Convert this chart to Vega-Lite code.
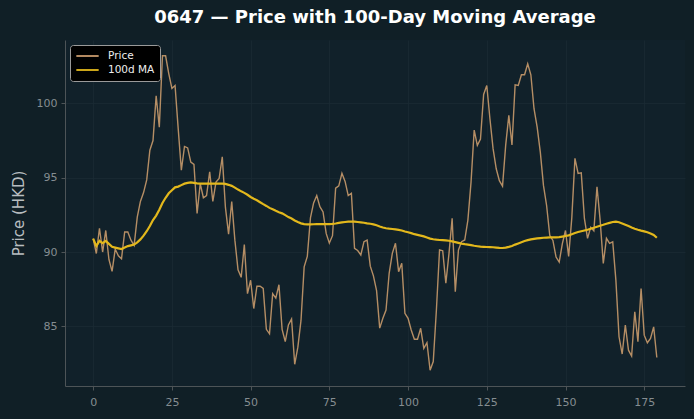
{
  "$schema": "https://vega.github.io/schema/vega-lite/v6.json",
  "width": 620,
  "height": 346,
  "autosize": {"type": "none"},
  "padding": {"left": 65, "top": 40, "right": 9, "bottom": 33},
  "background": "#101f26",
  "title": {
    "text": "0647 — Price with 100-Day Moving Average",
    "font": "DejaVu Sans",
    "fontSize": 18,
    "fontWeight": "bold",
    "color": "#ffffff",
    "anchor": "middle",
    "offset": 13
  },
  "config": {
    "view": {"stroke": null, "fill": "#11212a"},
    "font": "DejaVu Sans",
    "axis": {
      "labelFont": "DejaVu Sans",
      "labelFontSize": 11,
      "labelColor": "#858d91",
      "domainColor": "#4d5457",
      "tickColor": "#4d5457",
      "tickSize": 4,
      "gridColor": "#1b2b33",
      "gridWidth": 0.8,
      "titleFont": "DejaVu Sans",
      "titleFontWeight": "normal",
      "titleColor": "#b8bdc0",
      "titleFontSize": 15
    },
    "legend": {
      "orient": "top-left",
      "offset": 5,
      "fillColor": "#000000",
      "strokeColor": "#9a9a9a",
      "cornerRadius": 3,
      "padding": 5,
      "labelColor": "#eeeeee",
      "labelFont": "DejaVu Sans",
      "labelFontSize": 10.5,
      "symbolType": "stroke",
      "symbolStrokeWidth": 2,
      "symbolSize": 500,
      "clipHeight": 12,
      "rowPadding": 2,
      "labelOffset": 8,
      "title": null
    }
  },
  "data": {
    "values": [
      {"day":0,"price":90.9,"ma":90.9},{"day":1,"price":89.9,"ma":90.4},{"day":2,"price":91.6,"ma":90.75},{"day":3,"price":90.0,"ma":90.6},{"day":4,"price":91.45,"ma":90.75},
      {"day":5,"price":89.5,"ma":90.55},{"day":6,"price":88.7,"ma":90.35},{"day":7,"price":90.2,"ma":90.3},{"day":8,"price":89.75,"ma":90.25},{"day":9,"price":89.55,"ma":90.2},
      {"day":10,"price":91.35,"ma":90.3},{"day":11,"price":91.35,"ma":90.4},{"day":12,"price":90.8,"ma":90.45},{"day":13,"price":90.45,"ma":90.5},{"day":14,"price":92.35,"ma":90.65},
      {"day":15,"price":93.4,"ma":90.85},{"day":16,"price":94.0,"ma":91.1},{"day":17,"price":94.85,"ma":91.4},{"day":18,"price":96.85,"ma":91.75},{"day":19,"price":97.5,"ma":92.15},
      {"day":20,"price":100.5,"ma":92.45},{"day":21,"price":98.4,"ma":92.85},{"day":22,"price":103.2,"ma":93.3},{"day":23,"price":103.2,"ma":93.65},{"day":24,"price":102.0,"ma":93.95},
      {"day":25,"price":101.0,"ma":94.15},{"day":26,"price":101.2,"ma":94.35},{"day":27,"price":98.3,"ma":94.4},{"day":28,"price":95.5,"ma":94.5},{"day":29,"price":97.1,"ma":94.6},
      {"day":30,"price":97.0,"ma":94.65},{"day":31,"price":96.05,"ma":94.68},{"day":32,"price":95.9,"ma":94.65},{"day":33,"price":92.6,"ma":94.62},{"day":34,"price":94.6,"ma":94.6},
      {"day":35,"price":93.65,"ma":94.6},{"day":36,"price":93.8,"ma":94.6},{"day":37,"price":95.4,"ma":94.6},{"day":38,"price":93.4,"ma":94.6},{"day":39,"price":94.7,"ma":94.6},
      {"day":40,"price":94.95,"ma":94.6},{"day":41,"price":96.4,"ma":94.6},{"day":42,"price":93.0,"ma":94.58},{"day":43,"price":91.2,"ma":94.52},{"day":44,"price":93.4,"ma":94.45},
      {"day":45,"price":90.8,"ma":94.33},{"day":46,"price":88.8,"ma":94.2},{"day":47,"price":88.3,"ma":94.08},{"day":48,"price":90.5,"ma":93.98},{"day":49,"price":87.2,"ma":93.85},
      {"day":50,"price":88.1,"ma":93.7},{"day":51,"price":86.2,"ma":93.58},{"day":52,"price":87.7,"ma":93.48},{"day":53,"price":87.7,"ma":93.35},{"day":54,"price":87.55,"ma":93.22},
      {"day":55,"price":84.8,"ma":93.1},{"day":56,"price":84.5,"ma":92.97},{"day":57,"price":87.2,"ma":92.87},{"day":58,"price":86.9,"ma":92.77},{"day":59,"price":87.8,"ma":92.68},
      {"day":60,"price":84.8,"ma":92.6},{"day":61,"price":83.97,"ma":92.48},{"day":62,"price":85.1,"ma":92.35},{"day":63,"price":85.5,"ma":92.25},{"day":64,"price":82.45,"ma":92.12},
      {"day":65,"price":83.6,"ma":92.02},{"day":66,"price":85.4,"ma":91.93},{"day":67,"price":89.0,"ma":91.88},{"day":68,"price":89.7,"ma":91.86},{"day":69,"price":92.3,"ma":91.86},
      {"day":70,"price":93.3,"ma":91.87},{"day":71,"price":93.8,"ma":91.88},{"day":72,"price":93.05,"ma":91.88},{"day":73,"price":92.7,"ma":91.88},{"day":74,"price":91.25,"ma":91.88},
      {"day":75,"price":90.6,"ma":91.88},{"day":76,"price":91.1,"ma":91.89},{"day":77,"price":94.3,"ma":91.92},{"day":78,"price":94.45,"ma":91.96},{"day":79,"price":95.3,"ma":91.99},
      {"day":80,"price":94.75,"ma":92.02},{"day":81,"price":93.8,"ma":92.04},{"day":82,"price":93.95,"ma":92.05},{"day":83,"price":90.25,"ma":92.04},{"day":84,"price":90.1,"ma":92.02},
      {"day":85,"price":89.8,"ma":92.0},{"day":86,"price":90.7,"ma":91.97},{"day":87,"price":90.8,"ma":91.93},{"day":88,"price":89.05,"ma":91.9},{"day":89,"price":88.4,"ma":91.86},
      {"day":90,"price":87.4,"ma":91.8},{"day":91,"price":84.88,"ma":91.72},{"day":92,"price":85.54,"ma":91.65},{"day":93,"price":86.1,"ma":91.6},{"day":94,"price":88.57,"ma":91.57},
      {"day":95,"price":89.91,"ma":91.55},{"day":96,"price":90.59,"ma":91.52},{"day":97,"price":88.68,"ma":91.49},{"day":98,"price":89.24,"ma":91.45},{"day":99,"price":85.88,"ma":91.38},
      {"day":100,"price":85.54,"ma":91.33},{"day":101,"price":84.76,"ma":91.27},{"day":102,"price":84.13,"ma":91.2},{"day":103,"price":84.13,"ma":91.15},{"day":104,"price":84.87,"ma":91.1},
      {"day":105,"price":83.52,"ma":91.05},{"day":106,"price":83.9,"ma":90.98},{"day":107,"price":82.05,"ma":90.9},{"day":108,"price":82.63,"ma":90.86},{"day":109,"price":86.1,"ma":90.83},
      {"day":110,"price":90.14,"ma":90.81},{"day":111,"price":90.09,"ma":90.8},{"day":112,"price":87.9,"ma":90.78},{"day":113,"price":89.91,"ma":90.76},{"day":114,"price":92.27,"ma":90.72},
      {"day":115,"price":87.33,"ma":90.67},{"day":116,"price":90.14,"ma":90.62},{"day":117,"price":90.7,"ma":90.57},{"day":118,"price":90.81,"ma":90.53},{"day":119,"price":92.15,"ma":90.5},
      {"day":120,"price":94.7,"ma":90.46},{"day":121,"price":98.2,"ma":90.42},{"day":122,"price":97.17,"ma":90.39},{"day":123,"price":97.6,"ma":90.36},{"day":124,"price":100.6,"ma":90.35},
      {"day":125,"price":101.2,"ma":90.34},{"day":126,"price":98.96,"ma":90.33},{"day":127,"price":96.95,"ma":90.32},{"day":128,"price":95.6,"ma":90.3},{"day":129,"price":94.8,"ma":90.28},
      {"day":130,"price":94.43,"ma":90.27},{"day":131,"price":97.17,"ma":90.3},{"day":132,"price":99.19,"ma":90.35},{"day":133,"price":97.2,"ma":90.41},{"day":134,"price":101.25,"ma":90.5},
      {"day":135,"price":101.2,"ma":90.58},{"day":136,"price":101.92,"ma":90.66},{"day":137,"price":101.92,"ma":90.74},{"day":138,"price":102.66,"ma":90.8},{"day":139,"price":101.92,"ma":90.85},
      {"day":140,"price":99.64,"ma":90.89},{"day":141,"price":98.4,"ma":90.92},{"day":142,"price":96.72,"ma":90.94},{"day":143,"price":94.48,"ma":90.96},{"day":144,"price":93.13,"ma":90.97},
      {"day":145,"price":91.12,"ma":90.98},{"day":146,"price":90.78,"ma":90.98},{"day":147,"price":89.66,"ma":90.99},{"day":148,"price":89.32,"ma":91.0},{"day":149,"price":90.56,"ma":91.04},
      {"day":150,"price":91.45,"ma":91.08},{"day":151,"price":89.7,"ma":91.12},{"day":152,"price":92.3,"ma":91.2},{"day":153,"price":96.3,"ma":91.28},{"day":154,"price":95.29,"ma":91.35},
      {"day":155,"price":95.33,"ma":91.4},{"day":156,"price":92.26,"ma":91.45},{"day":157,"price":90.92,"ma":91.5},{"day":158,"price":91.66,"ma":91.57},{"day":159,"price":91.43,"ma":91.63},
      {"day":160,"price":94.39,"ma":91.7},{"day":161,"price":92.15,"ma":91.77},{"day":162,"price":89.23,"ma":91.83},{"day":163,"price":90.92,"ma":91.9},{"day":164,"price":90.58,"ma":91.96},
      {"day":165,"price":90.69,"ma":92.02},{"day":166,"price":88.11,"ma":92.04},{"day":167,"price":84.3,"ma":92.0},{"day":168,"price":83.14,"ma":91.92},{"day":169,"price":85.09,"ma":91.84},
      {"day":170,"price":83.4,"ma":91.75},{"day":171,"price":83.0,"ma":91.65},{"day":172,"price":85.98,"ma":91.57},{"day":173,"price":83.97,"ma":91.5},{"day":174,"price":87.55,"ma":91.44},
      {"day":175,"price":84.41,"ma":91.39},{"day":176,"price":83.9,"ma":91.33},{"day":177,"price":84.19,"ma":91.25},{"day":178,"price":84.97,"ma":91.15},{"day":179,"price":82.91,"ma":90.96}
    ]
  },
  "encoding": {
    "x": {
      "field": "day",
      "type": "quantitative",
      "scale": {"domain": [-8.95, 187.95], "nice": false, "zero": false},
      "axis": {"values": [0, 25, 50, 75, 100, 125, 150, 175], "title": null, "grid": true, "labelPadding": 6}
    }
  },
  "layer": [
    {
      "mark": {"type": "line", "strokeWidth": 1.4, "opacity": 0.9},
      "encoding": {
        "y": {
          "field": "price",
          "type": "quantitative",
          "scale": {"domain": [80.99, 104.26], "nice": false, "zero": false},
          "axis": {"values": [85, 90, 95, 100], "title": "Price (HKD)", "grid": true, "titlePadding": 10, "labelPadding": 4}
        },
        "color": {
          "datum": "Price",
          "type": "nominal",
          "scale": {"domain": ["Price", "100d MA"], "range": ["#c89a6c", "#e3b81c"]},
          "legend": {"title": null}
        }
      }
    },
    {
      "mark": {"type": "line", "strokeWidth": 2.2},
      "encoding": {
        "y": {"field": "ma", "type": "quantitative"},
        "color": {"datum": "100d MA", "type": "nominal"}
      }
    }
  ]
}
